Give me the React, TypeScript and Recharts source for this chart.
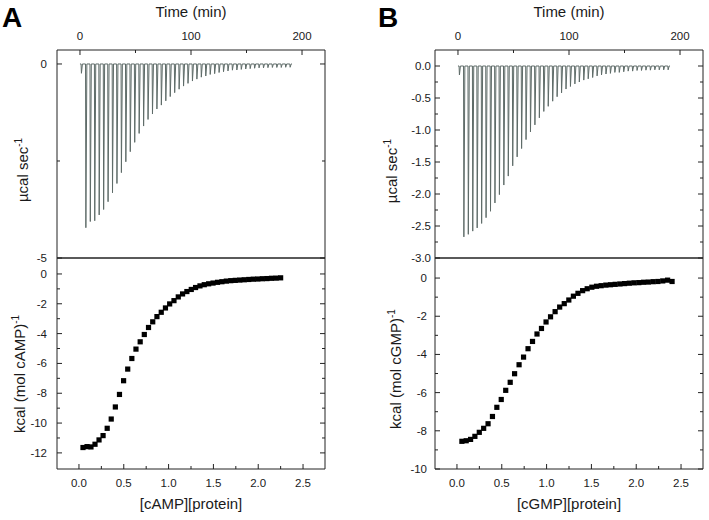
import React from 'react';
import { ComposedChart, Line, Scatter, XAxis, YAxis } from 'recharts';

const FONT = '"Liberation Sans", Arial, Helvetica, sans-serif';
const INK = '#1a1a1a';
const SPIKE = '#5e6b68';

// ---------- Raw thermograms (injection times in min, peak heat rate in µcal/s) ----------
const injTimes = [1, 5, 9, 13, 17, 21, 25, 29, 33, 37, 41, 45, 49, 53, 57, 61, 65, 69, 73, 77, 81, 85, 89, 93, 97, 101, 105, 109, 113, 117, 121, 125, 129, 133, 137, 141, 145, 149, 153, 157, 161, 165, 169, 173, 177, 181, 185, 189];
const traceEnd = 191;

const peaksA = [-0.24, -4.22, -4.06, -4.04, -3.89, -3.75, -3.55, -3.32, -3.08, -2.80, -2.52, -2.26, -2.02, -1.79, -1.60, -1.43, -1.29, -1.16, -1.06, -0.95, -0.84, -0.74, -0.65, -0.57, -0.50, -0.44, -0.39, -0.34, -0.31, -0.27, -0.25, -0.22, -0.20, -0.18, -0.16, -0.155, -0.14, -0.13, -0.12, -0.11, -0.10, -0.10, -0.095, -0.09, -0.09, -0.09, -0.085, -0.085];
const peaksB = [-0.14, -2.67, -2.63, -2.58, -2.53, -2.46, -2.37, -2.27, -2.14, -2.01, -1.86, -1.72, -1.56, -1.42, -1.29, -1.15, -1.03, -0.92, -0.81, -0.71, -0.63, -0.55, -0.48, -0.42, -0.36, -0.32, -0.28, -0.25, -0.22, -0.20, -0.18, -0.155, -0.14, -0.125, -0.115, -0.10, -0.10, -0.09, -0.08, -0.08, -0.07, -0.07, -0.065, -0.065, -0.06, -0.06, -0.06, -0.06];

// ---------- Integrated heats (molar ratio, kcal/mol) ----------
const ratioA = [0.045, 0.090, 0.134, 0.179, 0.224, 0.269, 0.315, 0.360, 0.406, 0.452, 0.498, 0.544, 0.590, 0.636, 0.683, 0.729, 0.776, 0.823, 0.870, 0.918, 0.965, 1.012, 1.060, 1.108, 1.156, 1.204, 1.253, 1.301, 1.350, 1.398, 1.447, 1.496, 1.546, 1.595, 1.644, 1.694, 1.744, 1.794, 1.844, 1.894, 1.945, 1.995, 2.046, 2.097, 2.148, 2.199, 2.250];
const heatA = [-11.64, -11.58, -11.60, -11.42, -11.13, -10.84, -10.35, -9.73, -8.92, -8.08, -7.16, -6.38, -5.67, -5.04, -4.55, -4.06, -3.59, -3.21, -2.86, -2.57, -2.28, -2.01, -1.79, -1.54, -1.34, -1.18, -1.04, -0.91, -0.80, -0.72, -0.66, -0.61, -0.56, -0.52, -0.48, -0.45, -0.43, -0.41, -0.39, -0.37, -0.35, -0.34, -0.32, -0.31, -0.29, -0.28, -0.26];
const ratioB = [0.055, 0.103, 0.152, 0.200, 0.249, 0.298, 0.347, 0.396, 0.445, 0.494, 0.544, 0.594, 0.643, 0.693, 0.743, 0.793, 0.843, 0.893, 0.943, 0.994, 1.044, 1.095, 1.146, 1.197, 1.248, 1.299, 1.350, 1.402, 1.453, 1.505, 1.557, 1.609, 1.661, 1.713, 1.765, 1.818, 1.870, 1.923, 1.976, 2.029, 2.082, 2.135, 2.189, 2.242, 2.296, 2.350, 2.400];
const heatB = [-8.55, -8.52, -8.45, -8.29, -8.08, -7.87, -7.63, -7.25, -6.77, -6.36, -5.88, -5.46, -5.01, -4.54, -4.14, -3.70, -3.32, -2.93, -2.64, -2.30, -2.03, -1.76, -1.52, -1.34, -1.15, -0.95, -0.80, -0.66, -0.56, -0.48, -0.43, -0.40, -0.37, -0.35, -0.33, -0.31, -0.29, -0.27, -0.25, -0.24, -0.22, -0.21, -0.19, -0.18, -0.15, -0.11, -0.18];

// ---------- Axis ticks ----------
const timeTicks = [0, 50, 100, 150, 200];
const timeMajors = [0, 100, 200];
const ratioTicks = [0, 0.25, 0.5, 0.75, 1, 1.25, 1.5, 1.75, 2, 2.25, 2.5];
const ratioMajors = [0, 0.5, 1, 1.5, 2, 2.5];
const rateTicksA = [-5, -2.5, 0];
const rateMajorsA = [-5, 0];
const rateTicksB = [-3, -2.75, -2.5, -2.25, -2, -1.75, -1.5, -1.25, -1, -0.75, -0.5, -0.25, 0];
const rateMajorsB = [-3, -2.5, -2, -1.5, -1, -0.5, 0];
const heatTicksA = [-12, -11, -10, -9, -8, -7, -6, -5, -4, -3, -2, -1, 0];
const heatMajorsA = [-12, -10, -8, -6, -4, -2, 0];
const heatTicksB = [-10, -9, -8, -7, -6, -5, -4, -3, -2, -1, 0];
const heatMajorsB = [-10, -8, -6, -4, -2, 0];

// ---------- helpers ----------
const buildTrace = (times: number[], peaks: number[], end: number) => {
  const pts: { t: number; v: number }[] = [{ t: 0, v: 0 }];
  times.forEach((t, i) => {
    pts.push({ t, v: 0 }, { t: t + 0.3, v: peaks[i] }, { t: t + 1.2, v: 0 });
  });
  pts.push({ t: end, v: 0 });
  return pts;
};
const buildPoints = (xs: number[], ys: number[]) => xs.map((x, i) => ({ x, y: ys[i] }));

const traceA = buildTrace(injTimes, peaksA, traceEnd);
const traceB = buildTrace(injTimes, peaksB, traceEnd);
const pointsA = buildPoints(ratioA, heatA);
const pointsB = buildPoints(ratioB, heatB);

const fmtInt = (v: number) => String(v);
const fmt1 = (v: number) => (Math.abs(v) < 1e-9 ? '0.0' : v.toFixed(1));

const makeTick = (side: string, majors: number[], fmt: ((v: number) => string) | null, gap: number) => (props: any) => {
  const x = Number(props.x);
  const y = Number(props.y);
  const v = props.payload.value;
  const major = majors.some((m) => Math.abs(m - v) < 1e-9);
  const len = major ? 5 : 3;
  const x2 = side === 'left' ? x + len : side === 'right' ? x - len : x;
  const y2 = side === 'top' ? y + len : side === 'bottom' ? y - len : y;
  let label: React.ReactNode = null;
  if (fmt && major) {
    if (side === 'top') label = <text x={x} y={y - gap} textAnchor="middle" fontSize={11.5} fill={INK}>{fmt(v)}</text>;
    if (side === 'bottom') label = <text x={x} y={y + gap} textAnchor="middle" fontSize={11.5} fill={INK}>{fmt(v)}</text>;
    if (side === 'left') label = <text x={x - gap} y={y + 4} textAnchor="end" fontSize={11.5} fill={INK}>{fmt(v)}</text>;
  }
  return (
    <g className={'mt-' + side}>
      <line x1={x} y1={y} x2={x2} y2={y2} stroke="#222" strokeWidth={1} />
      {label}
    </g>
  );
};

type TopProps = {
  left: number;
  width: number;
  trace: { t: number; v: number }[];
  leftW: number;
  rightW: number;
  yDomain: number[];
  yTicks: number[];
  yMajors: number[];
  yFmt: (v: number) => string;
  yGap: number;
};

// plot area: page y 50..258
const TopPlot = (p: TopProps) => (
  <div style={{ position: 'absolute', left: p.left, top: 0 }}>
    <ComposedChart width={p.width} height={270} data={p.trace} margin={{ top: 0, right: 0, bottom: 0, left: 0 }}>
      <XAxis xAxisId="t" orientation="top" type="number" dataKey="t" domain={[-20.7, 220.7]} allowDataOverflow ticks={timeTicks} interval={0} height={50} tickSize={0} tickMargin={0} tickLine={false} axisLine={{ stroke: '#222' }} tick={makeTick('top', timeMajors, fmtInt, 10)} />
      <XAxis xAxisId="b" orientation="bottom" type="number" domain={[-20.7, 220.7]} allowDataOverflow height={12} tick={false} tickLine={false} axisLine={{ stroke: '#222' }} />
      <YAxis yAxisId="l" orientation="left" type="number" domain={p.yDomain} allowDataOverflow ticks={p.yTicks} interval={0} width={p.leftW} tickSize={0} tickMargin={0} tickLine={false} axisLine={{ stroke: '#222' }} tick={makeTick('left', p.yMajors, p.yFmt, p.yGap)} />
      <YAxis yAxisId="r" orientation="right" type="number" domain={p.yDomain} allowDataOverflow ticks={p.yTicks} interval={0} width={p.rightW} tickSize={0} tickMargin={0} tickLine={false} axisLine={{ stroke: '#222' }} tick={makeTick('right', p.yMajors, null, 0)} />
      <Line xAxisId="t" yAxisId="l" dataKey="v" stroke={SPIKE} strokeWidth={1} dot={false} isAnimationActive={false} />
    </ComposedChart>
  </div>
);

type BotProps = {
  left: number;
  width: number;
  points: { x: number; y: number }[];
  leftW: number;
  rightW: number;
  yDomain: number[];
  yTicks: number[];
  yMajors: number[];
  yGap: number;
};

const squareShape = (props: any) => {
  const { cx, cy } = props;
  if (cx == null || cy == null) return <g />;
  return <rect x={cx - 2.6} y={cy - 2.6} width={5.2} height={5.2} fill="#000" />;
};

// chart at page y=250; plot area page y 258..469
const BottomPlot = (p: BotProps) => (
  <div style={{ position: 'absolute', left: p.left, top: 250 }}>
    <ComposedChart width={p.width} height={270} margin={{ top: 0, right: 0, bottom: 0, left: 0 }}>
      <XAxis xAxisId="t" orientation="top" type="number" domain={[-0.245, 2.745]} allowDataOverflow ticks={ratioTicks} interval={0} height={8} tickSize={0} tickMargin={0} tickLine={false} axisLine={{ stroke: '#222' }} tick={makeTick('top', ratioMajors, null, 0)} />
      <XAxis xAxisId="b" orientation="bottom" type="number" dataKey="x" domain={[-0.245, 2.745]} allowDataOverflow ticks={ratioTicks} interval={0} height={51} tickSize={0} tickMargin={0} tickLine={false} axisLine={{ stroke: '#222' }} tick={makeTick('bottom', ratioMajors, fmt1, 18)} />
      <YAxis yAxisId="l" orientation="left" type="number" dataKey="y" domain={p.yDomain} allowDataOverflow ticks={p.yTicks} interval={0} width={p.leftW} tickSize={0} tickMargin={0} tickLine={false} axisLine={{ stroke: '#222' }} tick={makeTick('left', p.yMajors, fmtInt, p.yGap)} />
      <YAxis yAxisId="r" orientation="right" type="number" domain={p.yDomain} allowDataOverflow ticks={p.yTicks} interval={0} width={p.rightW} tickSize={0} tickMargin={0} tickLine={false} axisLine={{ stroke: '#222' }} tick={makeTick('right', p.yMajors, null, 0)} />
      <Scatter xAxisId="b" yAxisId="l" data={p.points} dataKey="y" shape={squareShape} isAnimationActive={false} />
    </ComposedChart>
  </div>
);

const RotTitle = ({ x, y, main }: { x: number; y: number; main: string }) => (
  <text x={x} y={y} transform={`rotate(-90 ${x} ${y})`} textAnchor="middle" fontSize={15} fill={INK}>
    {main}
    <tspan dy={-6} fontSize={10}>-1</tspan>
  </text>
);

const Titles = () => (
  <svg width={709} height={520} style={{ position: 'absolute', left: 0, top: 0, pointerEvents: 'none' }} fontFamily={FONT}>
    <text x={2} y={27} fontSize={28} fontWeight="bold" fill="#000">A</text>
    <text x={378} y={27} fontSize={28} fontWeight="bold" fill="#000">B</text>
    <text x={191} y={17} textAnchor="middle" fontSize={15} fill={INK}>Time (min)</text>
    <text x={569} y={17} textAnchor="middle" fontSize={15} fill={INK}>Time (min)</text>
    <RotTitle x={28} y={170} main={'\u00B5cal sec'} />
    <RotTitle x={397} y={171} main={'\u00B5cal sec'} />
    <RotTitle x={25} y={374} main="kcal (mol cAMP)" />
    <RotTitle x={401} y={369} main="kcal (mol cGMP)" />
    <text x={191} y={509} textAnchor="middle" fontSize={15} fill={INK}>[cAMP][protein]</text>
    <text x={569} y={509} textAnchor="middle" fontSize={15} fill={INK}>[cGMP][protein]</text>
  </svg>
);

export default function App() {
  return (
    <div style={{ position: 'absolute', left: 0, top: 0, width: 709, height: 520, background: '#fff', fontFamily: FONT }}>
      <TopPlot left={0} width={345} trace={traceA} leftW={57} rightW={20} yDomain={[-5, 0.36]} yTicks={rateTicksA} yMajors={rateMajorsA} yFmt={fmtInt} yGap={10} />
      <TopPlot left={360} width={349} trace={traceB} leftW={75} rightW={6} yDomain={[-3, 0.25]} yTicks={rateTicksB} yMajors={rateMajorsB} yFmt={fmt1} yGap={4} />
      <BottomPlot left={0} width={345} points={pointsA} leftW={57} rightW={20} yDomain={[-13.08, 1.07]} yTicks={heatTicksA} yMajors={heatMajorsA} yGap={10} />
      <BottomPlot left={360} width={349} points={pointsB} leftW={75} rightW={6} yDomain={[-10, 1.05]} yTicks={heatTicksB} yMajors={heatMajorsB} yGap={8} />
      <Titles />
    </div>
  );
}
